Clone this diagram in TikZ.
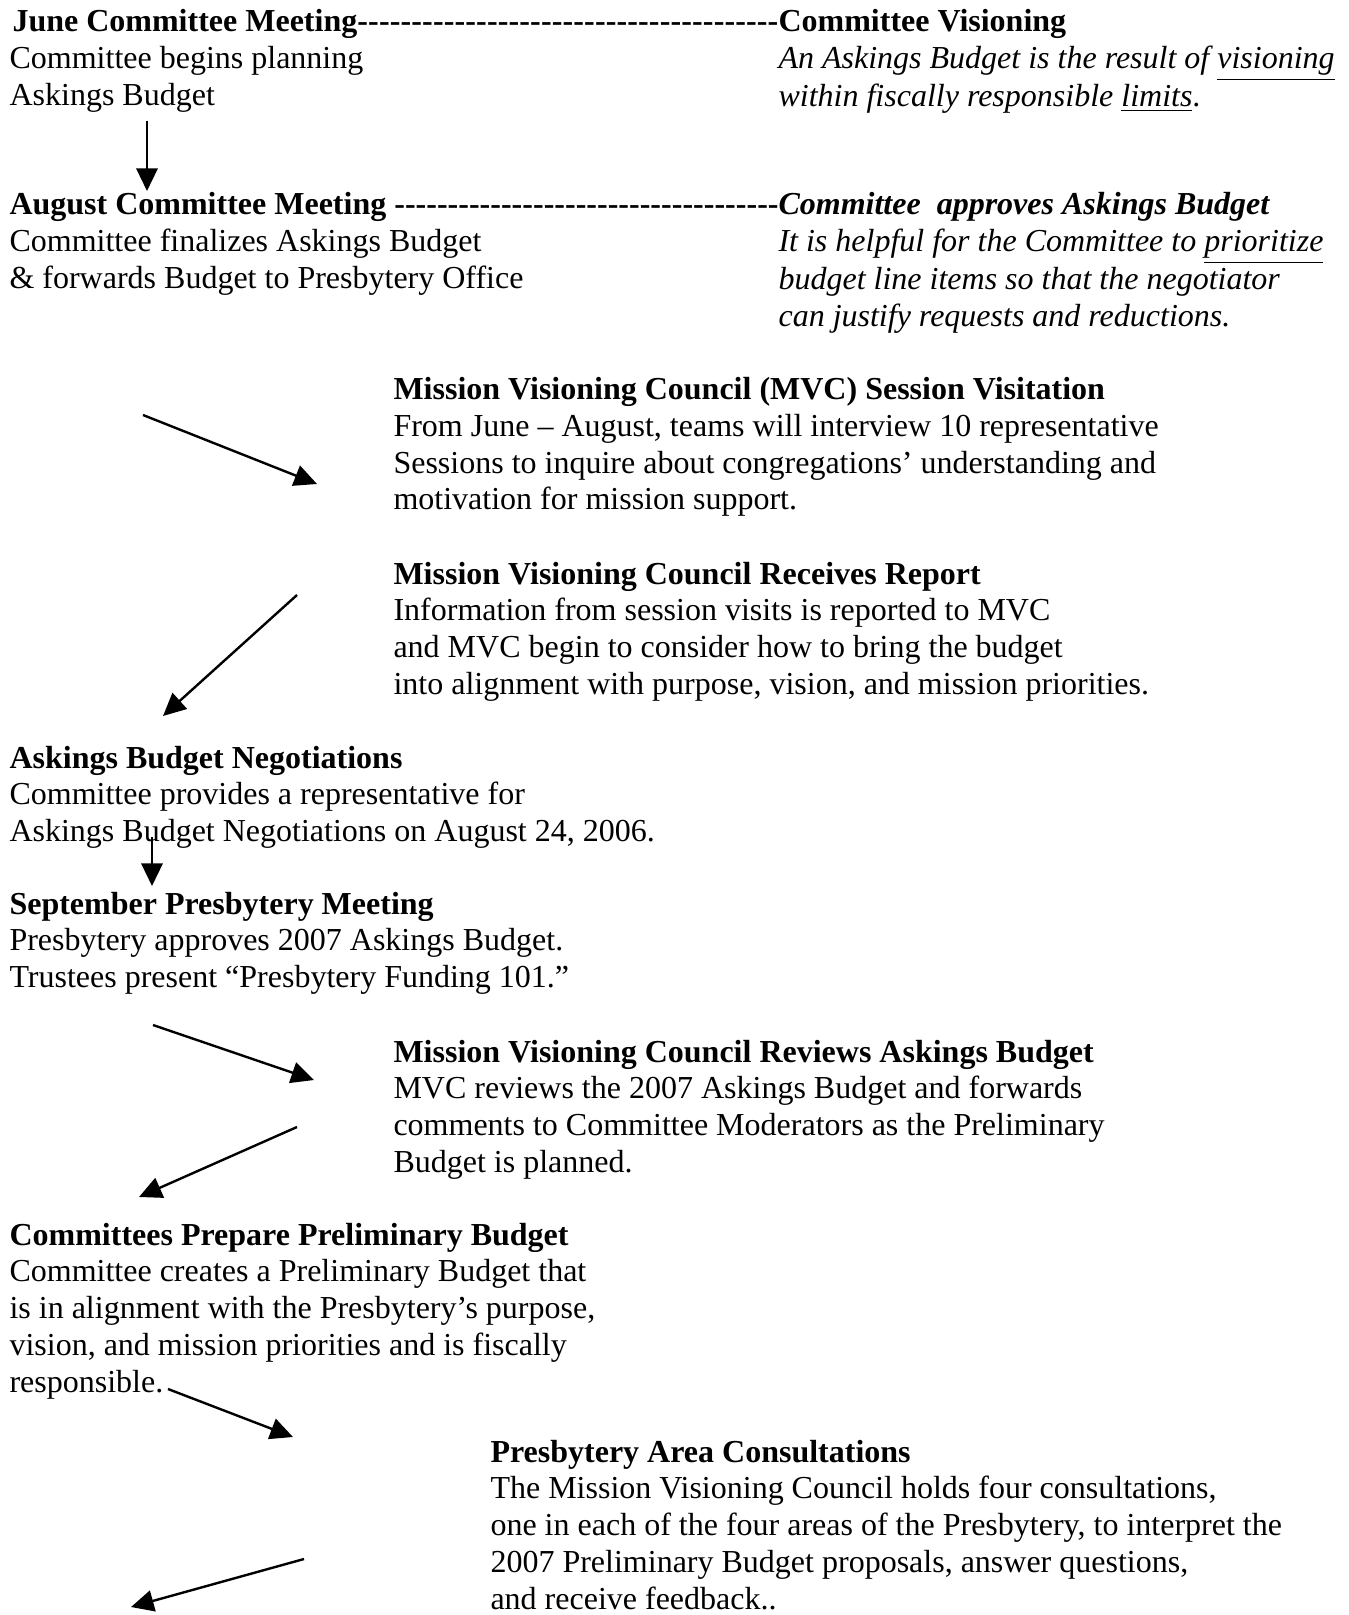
\documentclass[tikz,border=0pt]{standalone}
\usepackage{fontspec}
\setmainfont{Liberation Serif}
\usepackage{tikz}
\usetikzlibrary{arrows.meta}

\tikzset{
  blk/.style={anchor=base west, inner sep=0pt, font=\fontsize{12}{13.8}\selectfont},
  flow/.style={line width=0.9pt, -{Triangle[length=8.5pt,width=8pt]}}
}
\newcommand{\dashto}[2]{\makebox[#1][l]{\bfseries #2\xleaders\hbox{-}\hfill}}
\newcommand{\lines}[1]{\begin{tabular}[t]{@{}l@{}}#1\end{tabular}}

\begin{document}
\begin{tikzpicture}[x=0.375pt,y=-0.375pt]
  \useasboundingbox (0,0) rectangle (1348,1615);

  % committee side
  \node[blk] (june) at (12,32) {\lines{\dashto{287.25pt}{June Committee Meeting}\\
    \hspace*{-1.1pt}Committee begins planning\\\hspace*{-1.1pt}Askings Budget}};
  \node[blk] (vision) at (778,32) {\lines{\textbf{Committee Visioning}\\
    \textit{An Askings Budget is the result of \underline{visioning}}\\
    \textit{within fiscally responsible \underline{limits}}.}};
  \node[blk] (august) at (9,215) {\lines{\dashto{288.4pt}{August Committee Meeting }\\
    Committee finalizes Askings Budget\\\& forwards Budget to Presbytery Office}};
  \node[blk] (approve) at (778,215) {\lines{\textbf{\textit{Committee\ \ approves Askings Budget}}\\
    \textit{It is helpful for the Committee to \underline{prioritize}}\\
    \textit{budget line items so that the negotiator}\\
    \textit{can justify requests and reductions.}}};

  % council side
  \node[blk] (visit) at (393,399.5) {\lines{\textbf{Mission Visioning Council (MVC) Session Visitation}\\
    From June – August, teams will interview 10 representative\\
    Sessions to inquire about congregations’ understanding and\\
    motivation for mission support.}};
  \node[blk] (report) at (393,584) {\lines{\textbf{Mission Visioning Council Receives Report}\\
    Information from session visits is reported to MVC\\
    and MVC begin to consider how to bring the budget\\
    into alignment with purpose, vision, and mission priorities.}};
  \node[blk] (negot) at (9,768) {\lines{\textbf{Askings Budget Negotiations}\\
    Committee provides a representative for\\
    Askings Budget Negotiations on August 24, 2006.}};
  \node[blk] (sept) at (9,914) {\lines{\textbf{September Presbytery Meeting}\\
    Presbytery approves 2007 Askings Budget.\\
    Trustees present “Presbytery Funding 101.”}};
  \node[blk] (review) at (393,1062) {\lines{\textbf{Mission Visioning Council Reviews Askings Budget}\\
    MVC reviews the 2007 Askings Budget and forwards\\
    comments to Committee Moderators as the Preliminary\\
    Budget is planned.}};
  \node[blk] (prelim) at (9,1245) {\lines{\textbf{Committees Prepare Preliminary Budget}\\
    Committee creates a Preliminary Budget that\\
    is in alignment with the Presbytery’s purpose,\\
    vision, and mission priorities and is fiscally\\
    responsible.}};
  \node[blk] (consult) at (490,1462) {\lines{\textbf{Presbytery Area Consultations}\\
    The Mission Visioning Council holds four consultations,\\
    one in each of the four areas of the Presbytery, to interpret the\\
    2007 Preliminary Budget proposals, answer questions,\\
    and receive feedback..}};

  % arrow ends
  \coordinate (a1s) at (147,121);
  \coordinate (a1e) at (147,191);
  \coordinate (a2s) at (143,415);
  \coordinate (a2e) at (317,484);
  \coordinate (a3s) at (297,595);
  \coordinate (a3e) at (163,716);
  \coordinate (a4s) at (152,837);
  \coordinate (a4e) at (152,886);
  \coordinate (a5s) at (153,1025);
  \coordinate (a5e) at (314,1080);
  \coordinate (a6s) at (297,1127);
  \coordinate (a6e) at (139,1197);
  \coordinate (a7s) at (168,1389);
  \coordinate (a7e) at (293,1437);
  \coordinate (a8s) at (304,1559);
  \coordinate (a8e) at (131,1607);

  \foreach \i in {1,...,8}
    \draw[flow] (a\i s) -- (a\i e);
\end{tikzpicture}
\end{document}
